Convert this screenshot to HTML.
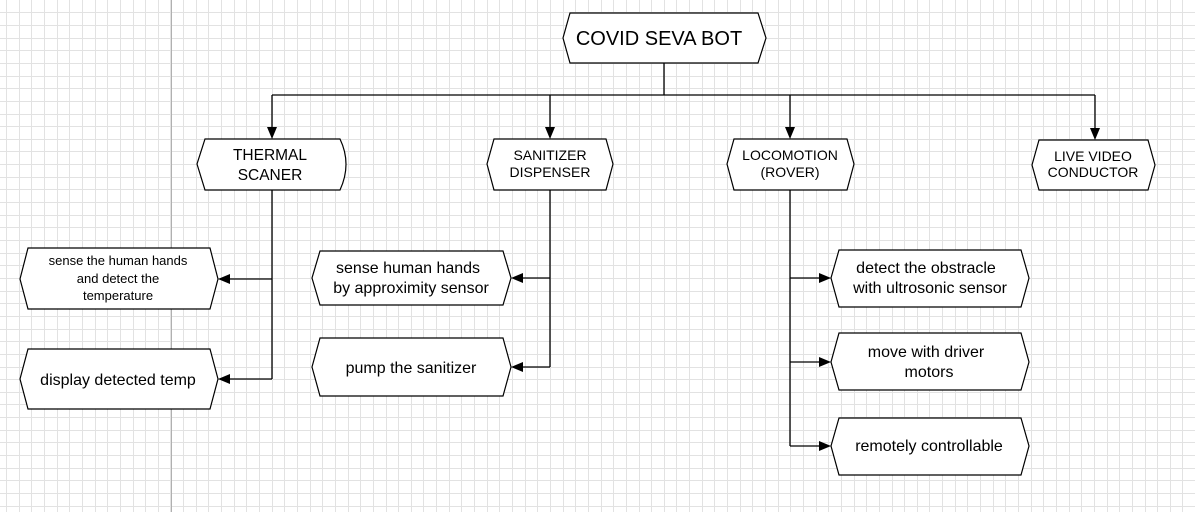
<!DOCTYPE html>
<html><head><meta charset="utf-8"><style>
html,body{margin:0;padding:0;}
body{width:1195px;height:512px;overflow:hidden;position:relative;background:#fff;
background-image:linear-gradient(to right,#e6e6e6 1px,transparent 1px),linear-gradient(to bottom,#e6e6e6 1px,transparent 1px);
background-size:12.65px 12.65px;background-position:6px 12px;}
svg{position:absolute;left:0;top:0;}
text{font-family:"Liberation Sans",Arial,sans-serif;fill:#000;}
</style></head><body>
<svg width="1195" height="512" viewBox="0 0 1195 512">
<path id="grid" d="" stroke="#e2e2e2" stroke-width="1" fill="none" shape-rendering="crispEdges"/>
<line x1="171.5" y1="0" x2="171.5" y2="512" stroke="#b0b0b0" stroke-width="1" shape-rendering="crispEdges"/>
<g fill="none" stroke="#000" stroke-width="1.3">
<path d="M664 63V95M272 95H1095M272 95V127M550 95V127M790 95V127M1095 95V128"/>
<path d="M272 190V379M272 279H230M272 379H230"/>
<path d="M550 190V367M550 278H523M550 367H523"/>
<path d="M790 190V446M790 278H819M790 362H819M790 446H819"/>
</g>
<g fill="#000">
<path d="M267 127h10l-5 12z"/><path d="M545 127h10l-5 12z"/><path d="M785 127h10l-5 12z"/><path d="M1090 128h10l-5 12z"/>
<path d="M230 274v10l-12-5z"/><path d="M230 374v10l-12-5z"/>
<path d="M523 273v10l-12-5z"/><path d="M523 362v10l-12-5z"/>
<path d="M819 273v10l12-5z"/><path d="M819 357v10l12-5z"/><path d="M819 441v10l12-5z"/>
</g>
<g fill="#fff" stroke="#000" stroke-width="1.2">
<path d="M570 13H758L766 38L758 63H570L563 38Z"/>
<path d="M205 139H340Q352 164 340 190H205L197 164Z"/>
<path d="M494 139H606L613 164L606 190H494L487 164Z"/>
<path d="M734 139H847L854 164L847 190H734L727 164Z"/>
<path d="M1039 140H1148L1155 165L1148 190H1039L1032 165Z"/>
<path d="M28 248H210L218 279L210 309H28L20 279Z"/>
<path d="M28 349H210L218 379L210 409H28L20 379Z"/>
<path d="M320 251H503L511 278L503 305H320L312 278Z"/>
<path d="M320 338H503L511 367L503 396H320L312 367Z"/>
<path d="M839 250H1021L1029 278L1021 307H839L831 278Z"/>
<path d="M839 333H1021L1029 362L1021 390H839L831 362Z"/>
<path d="M839 418H1021L1029 446L1021 475H839L831 446Z"/>
</g>
<g text-anchor="middle">
<text x="659" y="45" font-size="20">COVID SEVA BOT</text>
<text x="270" y="160" font-size="15.5">THERMAL</text><text x="270" y="180" font-size="15.5">SCANER</text>
<text x="550" y="160" font-size="14">SANITIZER</text><text x="550" y="177" font-size="14">DISPENSER</text>
<text x="790" y="160" font-size="14">LOCOMOTION</text><text x="790" y="177" font-size="14">(ROVER)</text>
<text x="1093" y="161" font-size="14">LIVE VIDEO</text><text x="1093" y="177" font-size="14">CONDUCTOR</text>
<text x="118" y="265" font-size="13">sense the human hands</text><text x="118" y="283" font-size="13">and detect the</text><text x="118" y="300" font-size="13">temperature</text>
<text x="118" y="385" font-size="16">display detected temp</text>
<text x="408" y="273" font-size="16">sense human hands</text><text x="411" y="293" font-size="16">by approximity sensor</text>
<text x="411" y="373" font-size="16">pump the sanitizer</text>
<text x="926" y="273" font-size="16">detect the obstracle</text><text x="930" y="293" font-size="16">with ultrosonic sensor</text>
<text x="926" y="357" font-size="16">move with driver</text><text x="929" y="377" font-size="16">motors</text>
<text x="929" y="451" font-size="16">remotely controllable</text>
</g>
</svg>
<script>
(function(){var d="",k,v;
for(k=0;k<95;k++){v=Math.round(6+k*12.65)+0.5;d+="M"+v+" 0V512";}
for(k=0;k<41;k++){v=Math.round(12.3+k*12.65)+0.5;d+="M0 "+v+"H1195";}
document.getElementById("grid").setAttribute("d",d);
document.body.style.backgroundImage="none";})();
</script>
</body></html>
